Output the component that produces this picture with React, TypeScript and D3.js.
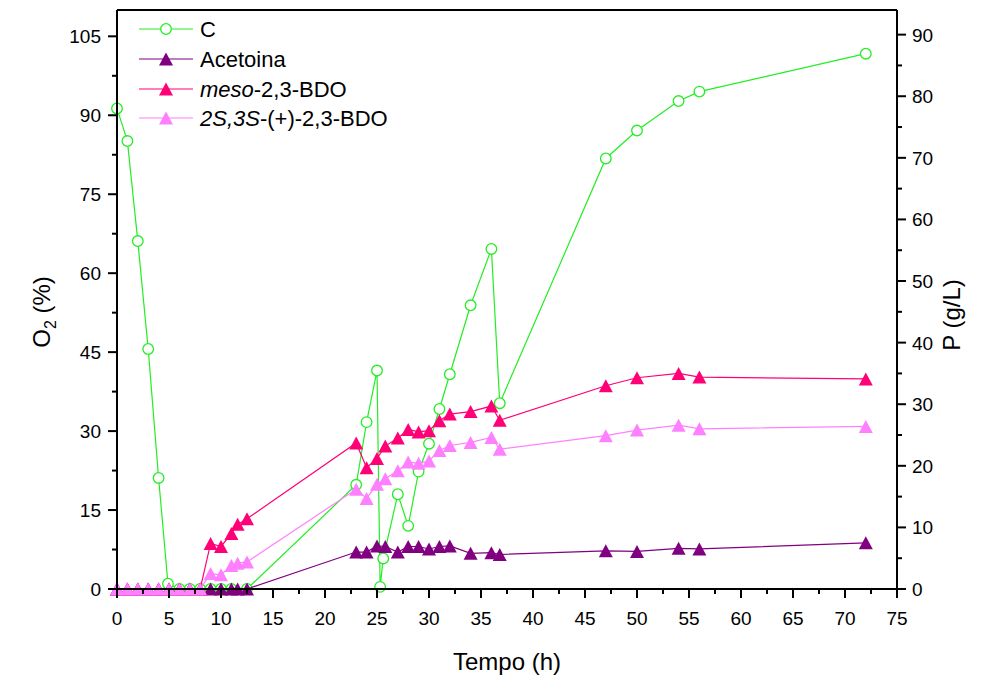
import React from "react";
import * as d3 from "d3";

const cTime = [0, 1, 2, 3, 4, 4.9, 6, 7, 8, 9, 10, 11, 12.5, 23, 24, 25, 25.3, 25.6, 27, 28, 29, 30, 31, 32, 34, 36, 36.8, 47, 50, 54, 56, 72];
const cValues = [91.3, 85.1, 66.1, 45.6, 21.1, 1.0, 0, 0, 0, 0, 0, 0, 0, 19.8, 31.7, 41.5, 0.4, 5.8, 18.0, 12.0, 22.3, 27.6, 34.2, 40.8, 53.9, 64.6, 35.3, 81.8, 87.1, 92.7, 94.5, 101.7];

const pTime = [0, 1, 2, 3, 4, 5, 6, 7, 8, 9, 10, 11, 11.6, 12.5, 23, 24, 25, 25.8, 27, 28, 29, 30, 31, 32, 34, 36, 36.8, 47, 50, 54, 56, 72];
const acetoina = [0, 0, 0, 0, 0, 0, 0, 0, 0, 0, 0, 0, 0, 0, 6.0, 6.0, 7.0, 6.9, 6.0, 6.9, 6.9, 6.5, 6.9, 7.0, 5.8, 5.9, 5.6, 6.2, 6.1, 6.6, 6.5, 7.5];
const meso = [0, 0, 0, 0, 0, 0, 0, 0, 0, 7.4, 6.9, 9.0, 10.5, 11.4, 23.7, 19.7, 21.2, 23.2, 24.5, 25.9, 25.5, 25.7, 27.3, 28.4, 28.8, 29.7, 27.4, 33.0, 34.3, 35.0, 34.4, 34.1];
const s2s3 = [0, 0, 0, 0, 0, 0, 0, 0, 0, 2.5, 2.3, 3.8, 4.2, 4.4, 16.2, 14.7, 17.0, 17.9, 19.2, 20.6, 20.4, 20.8, 22.5, 23.3, 23.8, 24.6, 22.7, 24.9, 25.8, 26.6, 26.0, 26.4];

const xTicks = d3.range(0, 76, 5);
const xMinor = d3.range(2.5, 75, 5);
const yLeftTicks = d3.range(0, 106, 15);
const yLeftMinor = d3.range(7.5, 110, 15);
const yRightTicks = d3.range(0, 91, 10);
const yRightMinor = d3.range(5, 94, 10);

const GREEN = "#22EE22";
const PURPLE = "#800080";
const MESO = "#FF0077";
const LIGHT = "#FF80FF";

const FONT = "'Liberation Sans', Arial, sans-serif";

const L = 117, R = 897, T = 10, B = 589;

const x = d3.scaleLinear().domain([0, 75]).range([L, R]);
const yL = d3.scaleLinear().domain([0, 110]).range([B, T]);
const yR = d3.scaleLinear().domain([0, 94]).range([B, T]);

function tri(cx: number, cy: number, w = 14, h = 13) {
  return `M${cx},${cy - h / 2}L${cx - w / 2},${cy + h / 2}L${cx + w / 2},${cy + h / 2}Z`;
}

function Series({ vals, color }: { vals: number[]; color: string }) {
  const pts: [number, number][] = pTime.map((t, i) => [x(t), yR(vals[i])]);
  const line = d3.line()(pts) || "";
  return (
    <g>
      <path d={line} fill="none" stroke={color} strokeWidth={1.2} />
      {pts.map((p, i) => (
        <path key={i} d={tri(p[0], p[1])} fill={color} />
      ))}
    </g>
  );
}

export default function App() {
  const cPts: [number, number][] = cTime.map((t, i) => [x(t), yL(cValues[i])]);
  const cLine = d3.line()(cPts) || "";
  const legendRows = [
    { y: 29, kind: "c", color: GREEN },
    { y: 59, kind: "t", color: PURPLE },
    { y: 89, kind: "t", color: MESO },
    { y: 118, kind: "t", color: LIGHT },
  ];
  return (
    <svg width={982} height={676} style={{ position: "absolute", left: 0, top: 0, background: "#fff" }} fontFamily={FONT}>
      <rect width={982} height={676} fill="#fff" />
      {/* C series */}
      <path d={cLine} fill="none" stroke={GREEN} strokeWidth={1.2} />
      {cPts.map((p, i) => (
        <circle key={i} cx={p[0]} cy={p[1]} r={5.3} fill="#fff" stroke={GREEN} strokeWidth={1.3} />
      ))}
      <Series vals={acetoina} color={PURPLE} />
      <Series vals={meso} color={MESO} />
      <Series vals={s2s3} color={LIGHT} />

      {/* frame */}
      <line x1={L} x2={R} y1={T} y2={T} stroke="#000" strokeWidth={2} />
      <line x1={L} x2={L} y1={T} y2={B} stroke="#000" strokeWidth={2} />
      <line x1={R} x2={R} y1={T} y2={B} stroke="#000" strokeWidth={2} />
      <line x1={L} x2={R} y1={B} y2={B} stroke="#000" strokeWidth={2} />

      {/* x axis */}
      {xTicks.map((t) => (
        <g key={t}>
          <line x1={x(t)} x2={x(t)} y1={B} y2={B + 9} stroke="#000" strokeWidth={2} />
          <text x={x(t)} y={625} fontSize={19} textAnchor="middle">{t}</text>
        </g>
      ))}
      {xMinor.map((t) => (
        <line key={t} x1={x(t)} x2={x(t)} y1={B} y2={B + 5} stroke="#000" strokeWidth={2} />
      ))}
      {/* left axis */}
      {yLeftTicks.map((v) => (
        <g key={v}>
          <line x1={L - 9} x2={L} y1={yL(v)} y2={yL(v)} stroke="#000" strokeWidth={2} />
          <text x={101} y={yL(v) + 7} fontSize={19} textAnchor="end">{v}</text>
        </g>
      ))}
      {yLeftMinor.map((v) => (
        <line key={v} x1={L - 5} x2={L} y1={yL(v)} y2={yL(v)} stroke="#000" strokeWidth={2} />
      ))}
      {/* right axis */}
      {yRightTicks.map((v) => (
        <g key={v}>
          <line x1={R} x2={R + 9} y1={yR(v)} y2={yR(v)} stroke="#000" strokeWidth={2} />
          <text x={912} y={yR(v) + 7} fontSize={19} textAnchor="start">{v}</text>
        </g>
      ))}
      {yRightMinor.map((v) => (
        <line key={v} x1={R} x2={R + 5} y1={yR(v)} y2={yR(v)} stroke="#000" strokeWidth={2} />
      ))}

      {/* axis titles */}
      <text x={507} y={670} fontSize={24} textAnchor="middle">Tempo (h)</text>
      <text transform="translate(50,312) rotate(-90)" fontSize={24} textAnchor="middle">
        O<tspan fontSize={16} dy={6}>2</tspan><tspan dy={-6}> (%)</tspan>
      </text>
      <text transform="translate(960,315) rotate(-90)" fontSize={24} textAnchor="middle">P (g/L)</text>

      {/* legend */}
      {legendRows.map((r, i) => (
        <g key={i}>
          <line x1={139} x2={193} y1={r.y} y2={r.y} stroke={r.color} strokeWidth={1.2} />
          {r.kind === "c" ? (
            <circle cx={166} cy={r.y} r={5.3} fill="#fff" stroke={r.color} strokeWidth={1.3} />
          ) : (
            <path d={tri(166, r.y)} fill={r.color} />
          )}
        </g>
      ))}
      <text x={200} y={37} fontSize={22}>C</text>
      <text x={200} y={67} fontSize={22}>Acetoina</text>
      <text x={200} y={97} fontSize={22}>
        <tspan fontStyle="italic">meso</tspan>-2,3-BDO
      </text>
      <text x={200} y={126} fontSize={22}>
        <tspan fontStyle="italic">2S,3S</tspan>-(+)-2,3-BDO
      </text>
    </svg>
  );
}
